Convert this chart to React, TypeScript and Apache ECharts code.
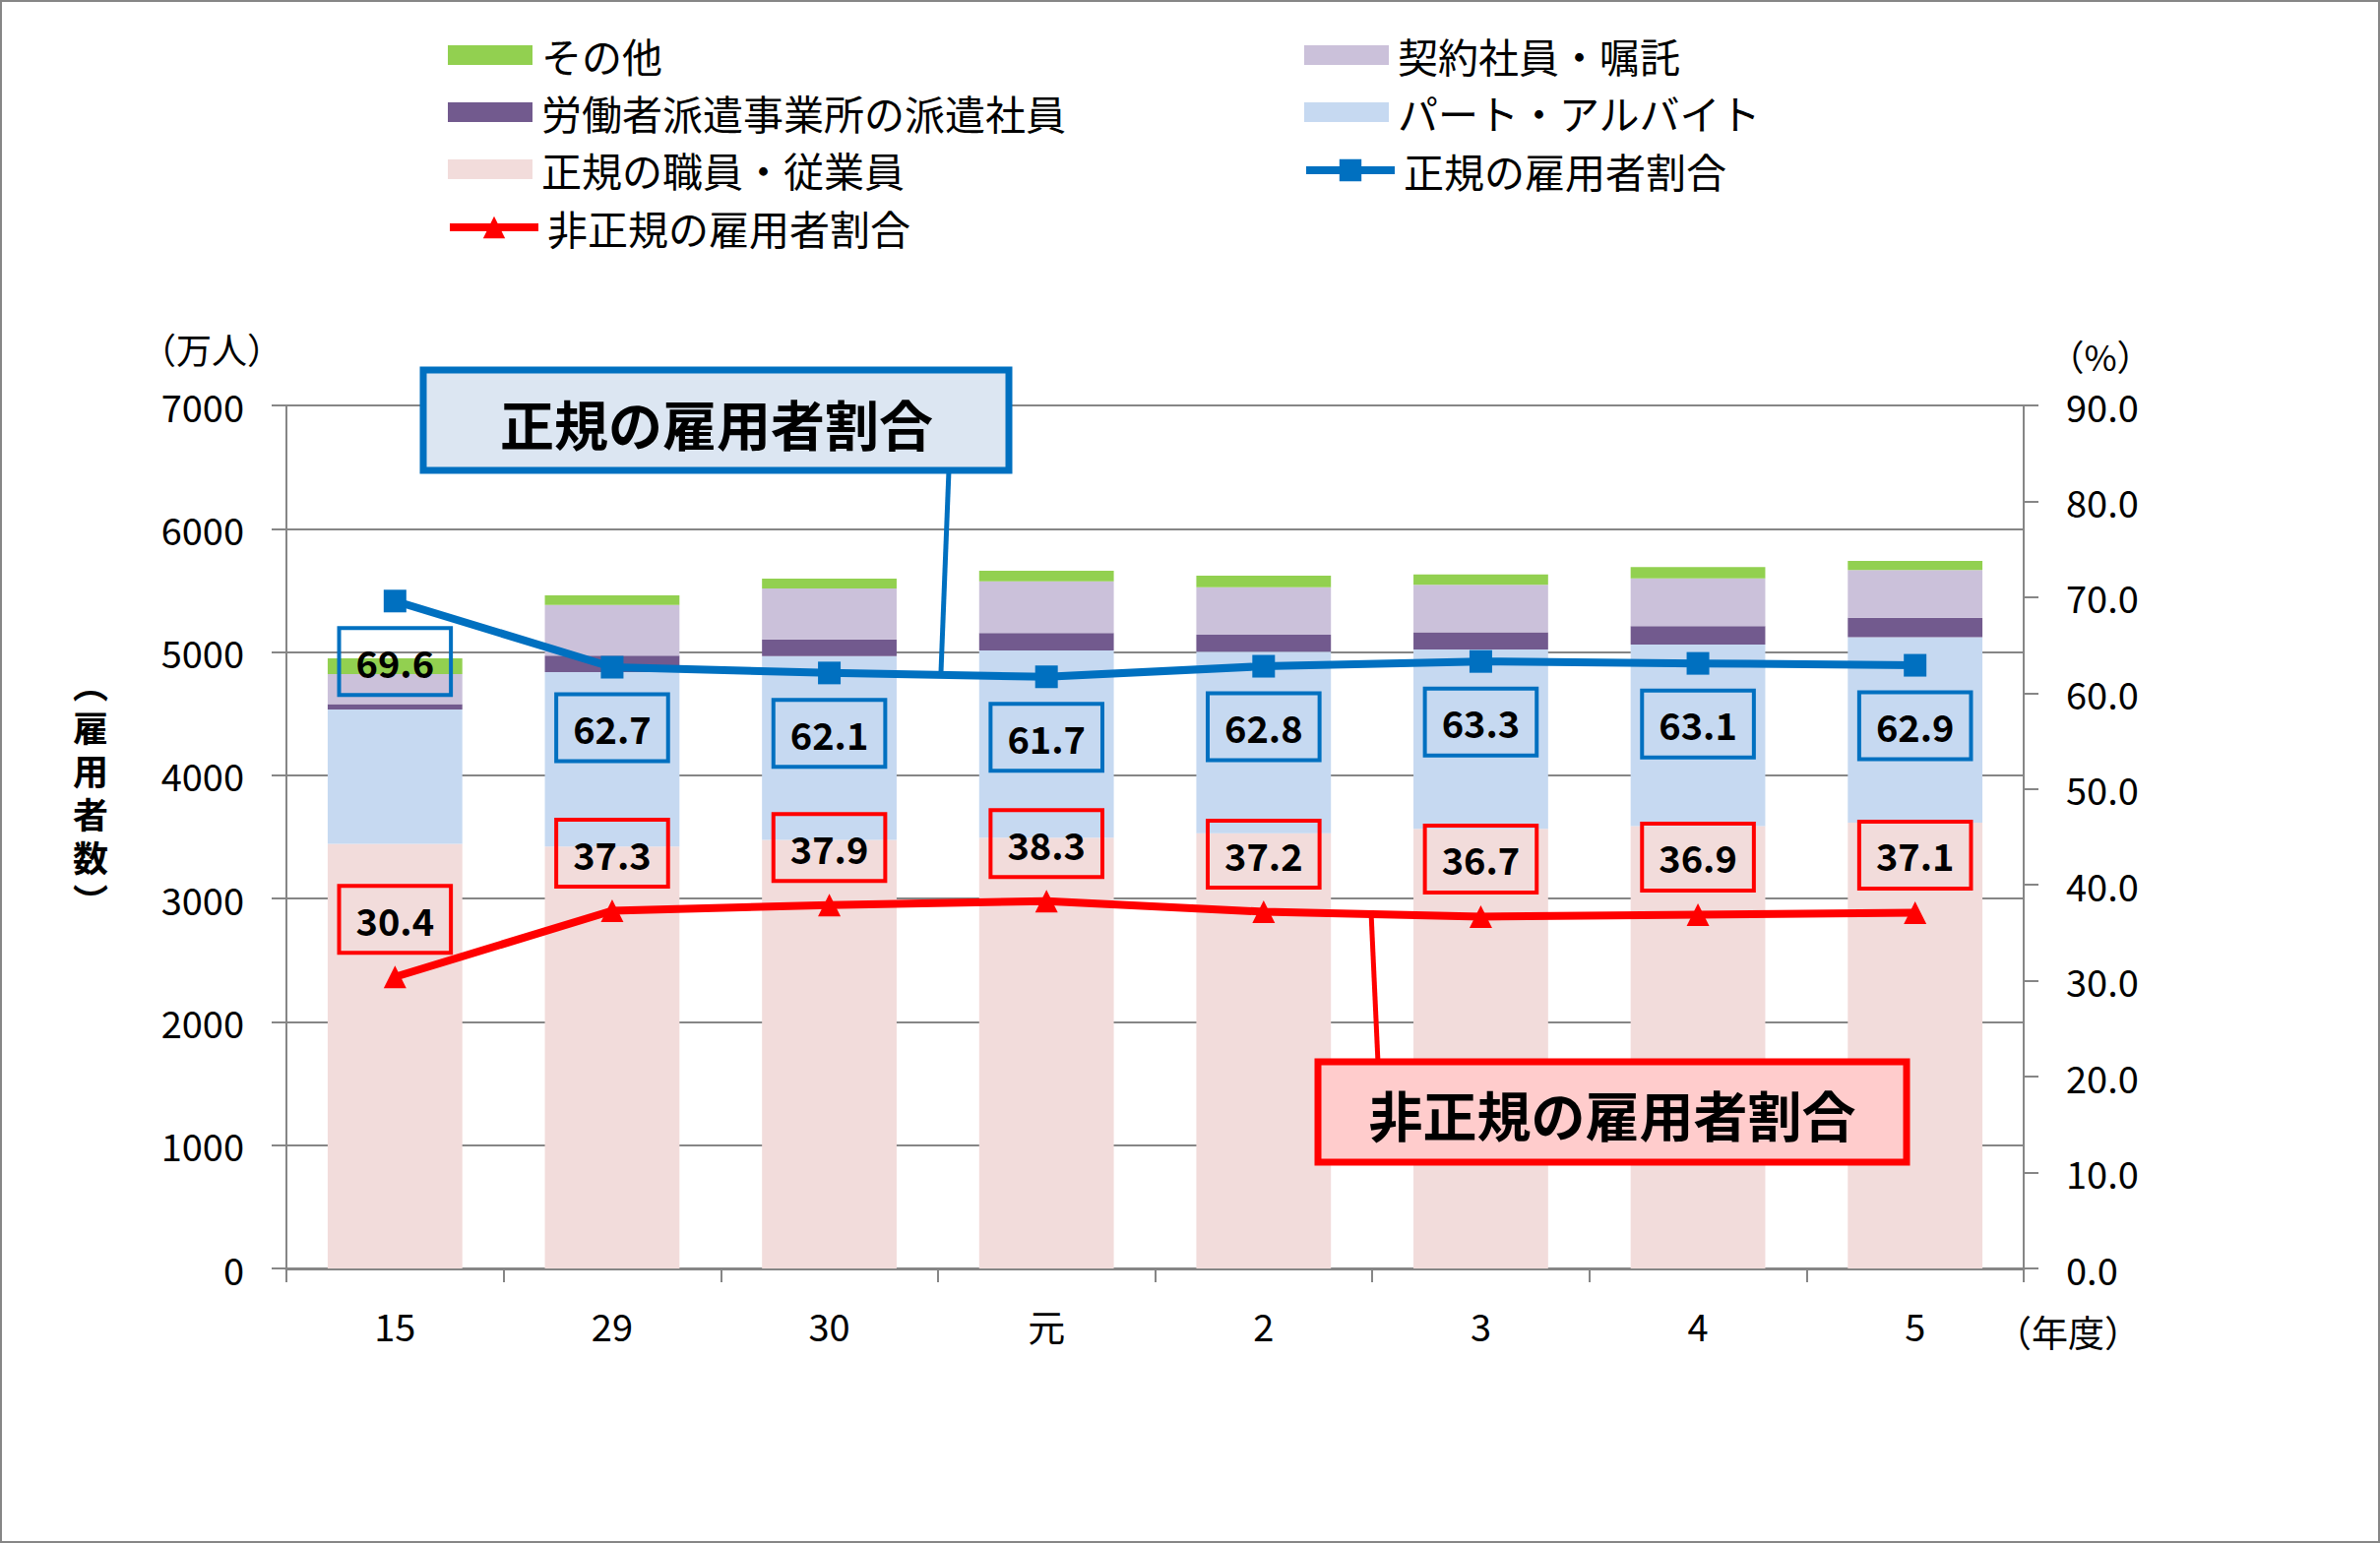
import React, { useEffect, useRef } from "react";
import * as echarts from "echarts";

const FONT = '"Noto Sans CJK JP", "Noto Sans", sans-serif';

const categories = ["15", "29", "30", "元", "2", "3", "4", "5"];
const regularStaff = [3444, 3423, 3476, 3494, 3529, 3565, 3588, 3615];
const partTime = [1089, 1414, 1490, 1519, 1473, 1455, 1473, 1506];
const dispatched = [45, 134, 136, 141, 138, 140, 149, 156];
const contract = [242, 411, 414, 419, 386, 386, 387, 388];
const others = [128, 77, 80, 86, 94, 83, 92, 74];
const regularRatio = [69.6, 62.7, 62.1, 61.7, 62.8, 63.3, 63.1, 62.9];
const nonRegularRatio = [30.4, 37.3, 37.9, 38.3, 37.2, 36.7, 36.9, 37.1];

const leftTicks = { min: 0, max: 7000, interval: 1000 };
const rightTicks = { min: 0, max: 90, interval: 10 };

const NAMES = {
  other: "その他",
  contract: "契約社員・嘱託",
  dispatch: "労働者派遣事業所の派遣社員",
  part: "パート・アルバイト",
  regular: "正規の職員・従業員",
  rRatio: "正規の雇用者割合",
  nRatio: "非正規の雇用者割合",
};

const yTitleChars = ["︵", "雇", "用", "者", "数", "︶"];

const GRAY = "#868686";

export default function App() {
  const ref = useRef<HTMLDivElement>(null);
  useEffect(() => {
    document.body.style.margin = "0";
    if (!ref.current) return;
    const chart = echarts.init(ref.current, null, { renderer: "svg" });
    const barBase = { type: "bar", stack: "total", barCategoryGap: "38%" };
    const legendText = {
      fontSize: 41,
      lineHeight: 42,
      color: "#000",
      fontFamily: FONT,
      padding: [0, 0, 0, 4],
    };
    const rectLegend = (left: number, names: string[]) => ({
      orient: "vertical",
      left,
      top: 30,
      itemWidth: 86,
      itemHeight: 20,
      itemGap: 16,
      textStyle: legendText,
      data: names.map((n) => ({ name: n, icon: "rect" })),
    });
    const lineLegend = (left: number, top: number, name: string) => ({
      orient: "vertical",
      left,
      top,
      itemWidth: 90,
      itemHeight: 28,
      itemGap: 16,
      textStyle: legendText,
      lineStyle: { width: 8 },
      data: [name],
    });
    const centerText = (x: number, y: number, text: string, extra: any) => ({
      type: "text",
      x,
      y,
      z: 101,
      style: {
        text,
        fontFamily: FONT,
        fill: "#000",
        align: "center",
        verticalAlign: "middle",
        textAlign: "center",
        textVerticalAlign: "middle",
        ...extra,
      },
    });
    const option: any = {
      animation: false,
      backgroundColor: "#fff",
      textStyle: { fontFamily: FONT },
      legend: [
        rectLegend(450, [NAMES.other, NAMES.dispatch, NAMES.regular]),
        rectLegend(1320, [NAMES.contract, NAMES.part]),
        lineLegend(448, 205, NAMES.nRatio),
        lineLegend(1318, 147, NAMES.rRatio),
      ],
      grid: { left: 291, right: 362, top: 412, bottom: 279 },
      xAxis: {
        type: "category",
        data: categories,
        axisLine: { lineStyle: { color: GRAY, width: 3 } },
        axisTick: { show: true, length: 14, lineStyle: { color: GRAY, width: 2 } },
        axisLabel: { color: "#000", fontSize: 38, margin: 38 },
      },
      yAxis: [
        {
          type: "value",
          ...leftTicks,
          axisLine: { show: true, lineStyle: { color: GRAY, width: 2 } },
          axisTick: { show: true, length: 15, lineStyle: { color: GRAY, width: 2 } },
          axisLabel: {
            color: "#000",
            fontSize: 38,
            margin: 43,
            formatter: (v: number) => String(v),
          },
          splitLine: { show: true, lineStyle: { color: GRAY, width: 2 } },
        },
        {
          type: "value",
          ...rightTicks,
          position: "right",
          axisLine: { show: true, lineStyle: { color: GRAY, width: 2 } },
          axisTick: { show: true, length: 15, lineStyle: { color: GRAY, width: 2 } },
          axisLabel: {
            color: "#000",
            fontSize: 38,
            margin: 43,
            formatter: (v: number) => v.toFixed(1),
          },
          splitLine: { show: false },
        },
      ],
      series: [
        { ...barBase, name: NAMES.regular, data: regularStaff, itemStyle: { color: "#F2DCDB" } },
        { ...barBase, name: NAMES.part, data: partTime, itemStyle: { color: "#C6D9F1" } },
        { ...barBase, name: NAMES.dispatch, data: dispatched, itemStyle: { color: "#725A8E" } },
        { ...barBase, name: NAMES.contract, data: contract, itemStyle: { color: "#CBC1DA" } },
        { ...barBase, name: NAMES.other, data: others, itemStyle: { color: "#92D050" } },
        {
          type: "line",
          name: NAMES.rRatio,
          yAxisIndex: 1,
          data: regularRatio,
          symbol: "rect",
          symbolSize: 23,
          lineStyle: { color: "#0070C0", width: 8 },
          itemStyle: { color: "#0070C0" },
          z: 5,
          label: {
            show: true,
            position: "bottom",
            distance: 16,
            formatter: (p: any) => p.value.toFixed(1),
            fontSize: 38,
            fontWeight: "bold",
            color: "#000",
            lineHeight: 40,
            borderColor: "#0070C0",
            borderWidth: 2,
            padding: [14, 17, 14, 17],
            backgroundColor: "transparent",
          },
        },
        {
          type: "line",
          name: NAMES.nRatio,
          yAxisIndex: 1,
          data: nonRegularRatio,
          symbol: "triangle",
          symbolSize: 23,
          lineStyle: { color: "#FF0000", width: 8 },
          itemStyle: { color: "#FF0000" },
          z: 5,
          label: {
            show: true,
            position: "top",
            distance: 13,
            formatter: (p: any) => p.value.toFixed(1),
            fontSize: 38,
            fontWeight: "bold",
            color: "#000",
            lineHeight: 40,
            borderColor: "#FF0000",
            borderWidth: 2,
            padding: [14, 17, 14, 17],
            backgroundColor: "transparent",
          },
        },
      ],
      graphic: [
        {
          type: "rect",
          shape: { x: 1, y: 1, width: 2416, height: 1566 },
          style: { fill: "none", stroke: GRAY, lineWidth: 2 },
          silent: true,
          z: 100,
        },
        {
          type: "line",
          shape: { x1: 964, y1: 478, x2: 956, y2: 683 },
          style: { stroke: "#0070C0", lineWidth: 5 },
          z: 100,
        },
        {
          type: "rect",
          shape: { x: 430, y: 376, width: 595, height: 102 },
          style: { fill: "#DCE6F2", stroke: "#0070C0", lineWidth: 7 },
          z: 100,
        },
        centerText(728, 429, "正規の雇用者割合", { fontSize: 55, fontWeight: "bold" }),
        {
          type: "line",
          shape: { x1: 1400, y1: 1080, x2: 1393, y2: 927 },
          style: { stroke: "#FF0000", lineWidth: 5 },
          z: 100,
        },
        {
          type: "rect",
          shape: { x: 1339, y: 1079, width: 598, height: 102 },
          style: { fill: "#FFCCCC", stroke: "#FF0000", lineWidth: 7 },
          z: 100,
        },
        centerText(1638, 1131, "非正規の雇用者割合", { fontSize: 55, fontWeight: "bold" }),
        centerText(215, 354, "（万人）", { fontSize: 36 }),
        centerText(2134, 361, "（%）", { fontSize: 36 }),
        centerText(2101, 1353, "（年度）", { fontSize: 37 }),
        ...yTitleChars.map((c, i) =>
          centerText(92, 694 + i * 44, c, { fontSize: 36, fontWeight: "bold" })
        ),
      ],
    };
    chart.setOption(option);
    return () => chart.dispose();
  }, []);
  return <div ref={ref} style={{ width: 2418, height: 1568 }} />;
}
